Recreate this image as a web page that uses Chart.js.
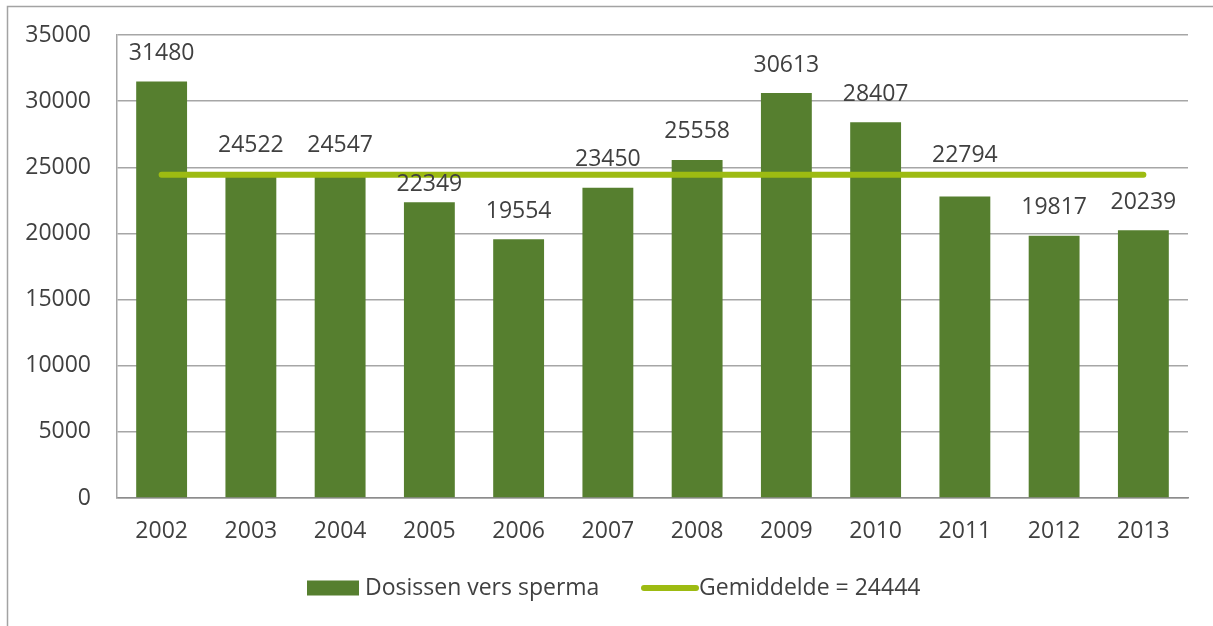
<!DOCTYPE html>
<html>
<head>
<meta charset="utf-8">
<script src="https://cdn.jsdelivr.net/npm/chart.js@4/dist/chart.umd.min.js"></script>
<style>
  html, body { margin: 0; padding: 0; background: #fff; }
  #wrap { width: 1213px; height: 626px; position: relative; }
</style>
</head>
<body>
<div id="wrap"><canvas id="chart" width="1213" height="626"></canvas></div>
<script>
const years = ['2002', '2003', '2004', '2005', '2006', '2007', '2008', '2009', '2010', '2011', '2012', '2013'];
const doses = [31480, 24522, 24547, 22349, 19554, 23450, 25558, 30613, 28407, 22794, 19817, 20239];
const average = [24444, 24444, 24444, 24444, 24444, 24444, 24444, 24444, 24444, 24444, 24444, 24444];
const yTicks = [0, 5000, 10000, 15000, 20000, 25000, 30000, 35000];

const FONT = '"Open Sans", sans-serif';
const TEXT = '#404040';
const BAR = '#567f2f';
const LINE = '#9dbb12';

// outer frame of the chart object (only left and top edges are visible)
const framePlugin = {
  id: 'frame',
  beforeDraw(chart) {
    const ctx = chart.ctx;
    ctx.save();
    ctx.strokeStyle = '#a3a3a3';
    ctx.lineWidth = 1.5;
    ctx.beginPath();
    ctx.moveTo(7.5, 626);
    ctx.lineTo(7.5, 6.5);
    ctx.lineTo(1213, 6.5);
    ctx.stroke();
    ctx.restore();
  }
};

// value labels above the bars
const valueLabels = {
  id: 'valueLabels',
  afterDatasetsDraw(chart) {
    const ctx = chart.ctx;
    const meta = chart.getDatasetMeta(0);
    ctx.save();
    ctx.font = '23px ' + FONT;
    ctx.fillStyle = TEXT;
    ctx.textAlign = 'center';
    ctx.textBaseline = 'middle';
    meta.data.forEach((bar, i) => {
      let off = 28;
      if (i === 3) off = 18;   // 2005 sits lower
      if (i === 9) off = 41;   // 2011 lifted above the average line
      ctx.fillText(String(doses[i]), bar.x, bar.y - off);
    });
    ctx.restore();
  }
};

// legend drawn by hand to get the Excel swatches
const legendPlugin = {
  id: 'customLegend',
  afterDraw(chart) {
    const ctx = chart.ctx;
    const y = 588;
    ctx.save();
    ctx.font = '23px ' + FONT;
    ctx.textBaseline = 'middle';
    ctx.textAlign = 'left';
    ctx.fillStyle = BAR;
    ctx.fillRect(307, y - 7.5, 52, 15);
    ctx.fillStyle = TEXT;
    ctx.fillText(chart.data.datasets[0].label, 365, y);
    ctx.strokeStyle = LINE;
    ctx.lineWidth = 6;
    ctx.lineCap = 'round';
    ctx.beginPath();
    ctx.moveTo(644, y);
    ctx.lineTo(696, y);
    ctx.stroke();
    ctx.fillText(chart.data.datasets[1].label, 699, y);
    ctx.restore();
  }
};

new Chart(document.getElementById('chart'), {
  data: {
    labels: years,
    datasets: [
      {
        type: 'bar',
        label: 'Dosissen vers sperma',
        data: doses,
        backgroundColor: BAR,
        barPercentage: 0.57,
        categoryPercentage: 1.0,
        order: 1
      },
      {
        type: 'line',
        label: 'Gemiddelde = 24444',
        data: average,
        borderColor: LINE,
        borderWidth: 6,
        borderCapStyle: 'round',
        pointRadius: 0,
        fill: false,
        order: 0
      }
    ]
  },
  plugins: [framePlugin, valueLabels, legendPlugin],
  options: {
    responsive: false,
    animation: false,
    devicePixelRatio: 1,
    layout: { padding: { top: 35, right: 25, left: 0, bottom: 0 } },
    plugins: {
      legend: { display: false },
      tooltip: { enabled: false }
    },
    scales: {
      x: {
        grid: { display: false, drawTicks: false },
        border: { display: true, color: '#8c8c8c', width: 1.5 },
        ticks: { font: { family: FONT, size: 23 }, color: TEXT, padding: 20, maxRotation: 0 },
        afterFit(scale) { scale.height = 128; }
      },
      y: {
        min: 0,
        max: 35000,
        afterBuildTicks(scale) { scale.ticks = yTicks.map(v => ({ value: v })); },
        grid: { color: '#a6a6a6', lineWidth: 1.5, drawTicks: false },
        border: { display: true, color: '#a6a6a6', width: 1.5 },
        ticks: {
          font: { family: FONT, size: 23 }, color: TEXT, padding: 26,
          callback: v => String(v)
        },
        afterFit(scale) {
          scale.width = 117;
          scale.paddingTop = 0;
          scale.paddingBottom = 0;
        }
      }
    }
  }
});
</script>
</body>
</html>
